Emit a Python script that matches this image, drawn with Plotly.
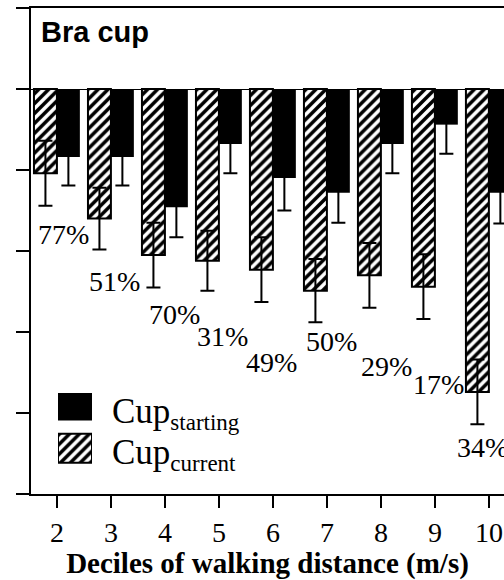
import plotly.graph_objects as go

# ---- data ----
deciles = [2, 3, 4, 5, 6, 7, 8, 9, 10]
cup_starting = [-0.84, -0.84, -1.46, -0.68, -1.10, -1.28, -0.68, -0.44, -1.28]
cup_starting_err = [0.35, 0.35, 0.37, 0.36, 0.40, 0.37, 0.36, 0.36, 0.38]
cup_current = [-1.04, -1.60, -2.05, -2.12, -2.23, -2.49, -2.30, -2.44, -3.74]
cup_current_err = [0.40, 0.38, 0.40, 0.37, 0.40, 0.39, 0.40, 0.40, 0.40]
pct_labels = ["77%", "51%", "70%", "31%", "49%", "50%", "29%", "17%", "34%"]
# label anchor positions (data units)
pct_x = [2.13, 3.06, 4.17, 5.06, 5.98, 7.09, 8.11, 9.06, 9.89]
pct_y = [-1.80, -2.38, -2.79, -3.06, -3.38, -3.12, -3.43, -3.65, -4.43]
tick_vals = [2, 3, 4, 5, 6, 7, 8, 9, 10]
tick_text = ["2", "3", "4", "5", "6", "7", "8", "9", "10"]

SERIF = "Liberation Serif"
SANS = "Liberation Sans"

hatch = dict(shape="/", fgcolor="black", bgcolor="white", size=7, solidity=0.5,
             fillmode="replace")

fig = go.Figure()
fig.add_trace(go.Bar(
    x=deciles, y=cup_current, name="Cup<sub>current</sub>",
    marker=dict(color="white", pattern=hatch, line=dict(color="black", width=2)),
    error_y=dict(type="data", array=cup_current_err, symmetric=True,
                 color="black", thickness=2, width=7),
    showlegend=False,
))
fig.add_trace(go.Bar(
    x=deciles, y=cup_starting, name="Cup<sub>starting</sub>",
    marker=dict(color="black", line=dict(color="black", width=0)),
    error_y=dict(type="data", array=cup_starting_err, symmetric=True,
                 color="black", thickness=2, width=7),
    showlegend=False,
))

# legend swatches on a small overlay axis
fig.add_trace(go.Bar(
    x=[1], y=[1], orientation="h", xaxis="x2", yaxis="y2", width=0.66,
    marker=dict(color="black", line=dict(width=0)), showlegend=False, hoverinfo="skip",
))
fig.add_trace(go.Bar(
    x=[1], y=[0], orientation="h", xaxis="x2", yaxis="y2", width=0.7,
    marker=dict(color="white", pattern=hatch, line=dict(color="black", width=2)),
    showlegend=False, hoverinfo="skip",
))

W, H = 504, 580
L, R, T, B = 31, 0, 8, 86
pw, ph = W - L - R, H - T - B

def px_x(p):
    return (p - L) / pw

def px_y(p):
    return (H - B - p) / ph

annotations = []
for t, xx, yy in zip(pct_labels, pct_x, pct_y):
    annotations.append(dict(x=xx, y=yy, xref="x", yref="y", text=t, showarrow=False,
                            font=dict(family=SERIF, size=28, color="black"),
                            xanchor="center", yanchor="middle"))

annotations.append(dict(x=px_x(39), y=px_y(32), xref="paper", yref="paper",
                        text="<b>Bra cup</b>", showarrow=False,
                        font=dict(family=SANS, size=29, color="black"),
                        xanchor="left", yanchor="middle"))
annotations.append(dict(x=px_x(110), y=px_y(413), xref="paper", yref="paper",
                        text="Cup<sub><span style='font-size:23px'>starting</span></sub>",
                        showarrow=False,
                        font=dict(family=SERIF, size=35, color="black"),
                        xanchor="left", yanchor="middle"))
annotations.append(dict(x=px_x(110), y=px_y(454), xref="paper", yref="paper",
                        text="Cup<sub><span style='font-size:23px'>current</span></sub>",
                        showarrow=False,
                        font=dict(family=SERIF, size=35, color="black"),
                        xanchor="left", yanchor="middle"))

fig.update_layout(
    width=W, height=H,
    margin=dict(l=L, r=R, t=T, b=B, pad=0),
    paper_bgcolor="white", plot_bgcolor="white",
    barmode="group", bargap=0.15, bargroupgap=0.0,
    showlegend=False,
    annotations=annotations,
    xaxis=dict(
        range=[1.52, 10.28], tickvals=tick_vals, ticktext=tick_text,
        showline=True, linecolor="black", linewidth=2, mirror=True,
        ticks="outside", ticklen=12, tickwidth=2, tickcolor="black",
        showgrid=False, zeroline=False,
        tickfont=dict(family=SERIF, size=28, color="black"),
        title=dict(text="<b>Deciles of walking distance (m/s)</b>",
                   font=dict(family=SERIF, size=29, color="black"), standoff=2),
    ),
    yaxis=dict(
        range=[-5, 1], tickvals=[-5, -4, -3, -2, -1, 0, 1],
        showticklabels=False,
        showline=True, linecolor="black", linewidth=2,
        ticks="outside", ticklen=13, tickwidth=2, tickcolor="black",
        showgrid=False, zeroline=True, zerolinecolor="black", zerolinewidth=1,
    ),
    xaxis2=dict(domain=[px_x(58), px_x(92)], range=[0, 1], anchor="y2",
                visible=False, fixedrange=True),
    yaxis2=dict(domain=[px_y(469), px_y(386)], range=[-0.5, 1.5], anchor="x2",
                visible=False, fixedrange=True),
)

fig.write_html("out.html", config={"displayModeBar": False},
               post_script="document.body.style.margin='0';document.body.style.overflow='hidden';")
